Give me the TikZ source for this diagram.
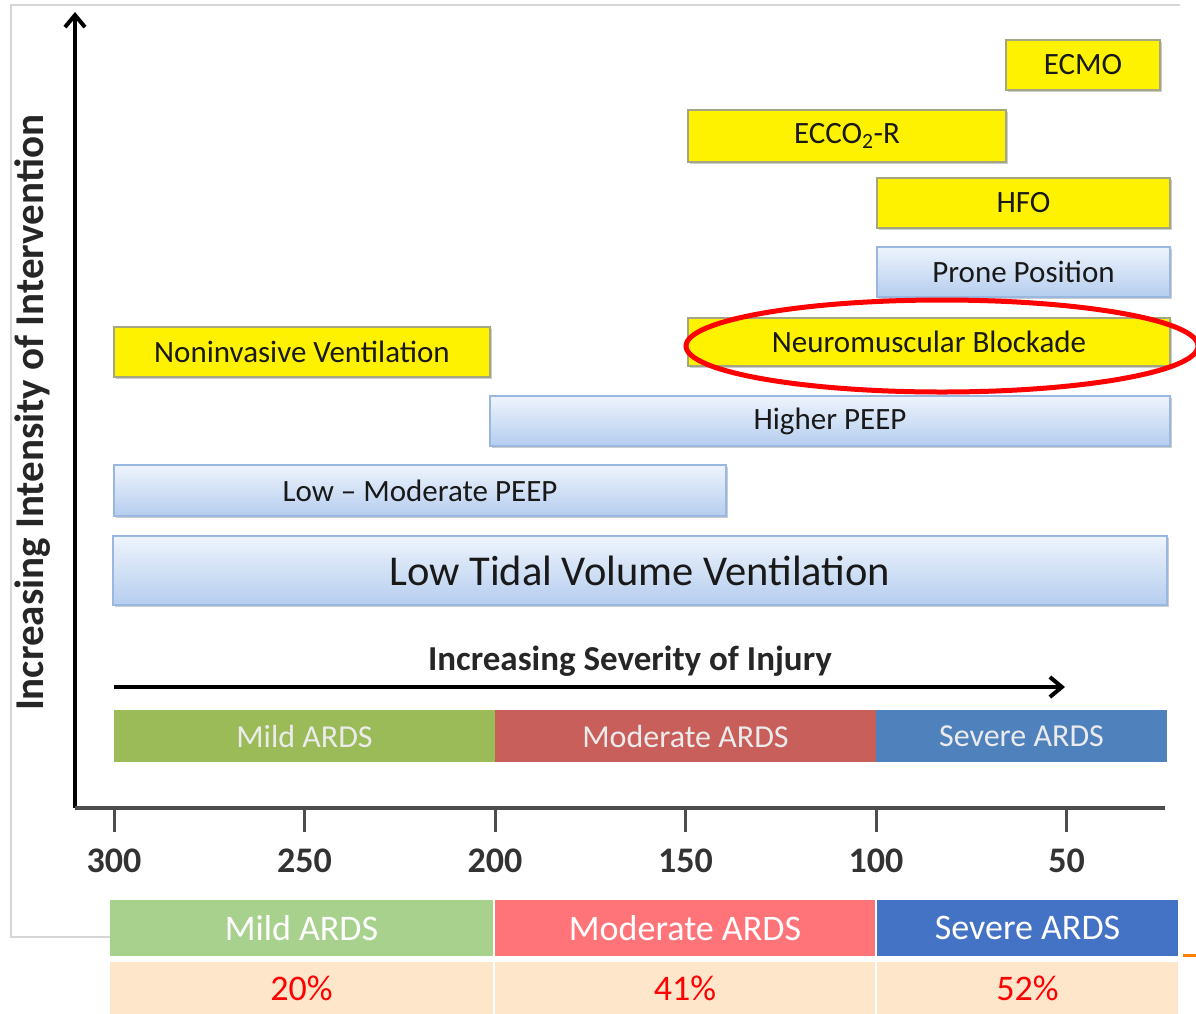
\documentclass[tikz,border=0pt]{standalone}
\usepackage{fontspec}
\setmainfont{Carlito}
\usetikzlibrary{arrows.meta,shadows}

\definecolor{boxtop}{HTML}{EEF4FC}
\definecolor{boxbot}{HTML}{B5CDEF}
\definecolor{boxline}{HTML}{9AB7DF}
\definecolor{yelline}{HTML}{A3A67E}
\definecolor{mildbar}{HTML}{9BBB59}
\definecolor{modbar}{HTML}{C95F5B}
\definecolor{sevbar}{HTML}{4F81BD}
\definecolor{mildcell}{HTML}{A9D18E}
\definecolor{modcell}{HTML}{FF7478}
\definecolor{sevcell}{HTML}{4472C4}
\definecolor{pctcell}{HTML}{FEE6CB}
\definecolor{axisgray}{HTML}{4D4D4D}
\definecolor{framegray}{HTML}{D6D6D6}

\tikzset{
    treat/.style={line width=1.5, inner sep=0, text=black!90,
        font=\fontsize{31}{34}\selectfont,
        drop shadow={shadow xshift=1.5pt, shadow yshift=-2pt, fill=black, opacity=0.2}},
    bluebox/.style={treat, draw=boxline, top color=boxtop, bottom color=boxbot},
    yelbox/.style={treat, draw=yelline, fill=yellow},
    ardsbar/.style={minimum height=52, inner sep=0, text=white!92!black,
        font=\fontsize{32}{34}\selectfont},
    cell/.style={minimum height=56, inner sep=0, font=\fontsize{36}{40}\selectfont},
    ticklabel/.style={text=black!80, font=\bfseries\fontsize{36}{40}\selectfont}
}

\begin{document}
\begin{tikzpicture}[x=1pt, y=-1pt]
            \useasboundingbox (0,0) rectangle (1196,1013);
            \clip (0,0) rectangle (1196,1013);
            \draw[framegray, line width=1.2] (110,937) -- (11,937) -- (11,5) -- (1180,5);

            \coordinate (origin) at (75,808);
            \coordinate (ytop) at (75,12);
            \coordinate (xend) at (1165,808);
            \coordinate (sevstart) at (114,687);
            \coordinate (sevend) at (1065,687);
            \draw[line width=4, -{Straight Barb[length=12, width=20, line width=4]}] (origin) -- (ytop);
            \draw[axisgray, line width=4] (origin) -- (xend);
            \draw[line width=4, -{Straight Barb[length=12, width=20, line width=4]}] (sevstart) -- (sevend);
            \foreach \v in {300,250,200,150,100,50}
                \draw[axisgray, line width=3] ({114+(300-\v)*3.81},810) -- ++(0,22)
                    node[ticklabel, below=12pt] (t\v) {\v};

            \node[rotate=90, text=black!85, font=\bfseries\fontsize{41}{44}\selectfont] (ylab) at (33,413) {Increasing Intensity of Intervention};
            \node[text=black!85, font=\bfseries\fontsize{35}{38}\selectfont] (sevlab) at (630,661) {Increasing Severity of Injury};

            \node[yelbox, minimum width=154, minimum height=50] (ecmo) at (1083,65) {ECMO};
            \node[yelbox, minimum width=318, minimum height=52] (eccor) at (847,136) {ECCO\textsubscript{2}-R};
            \node[yelbox, minimum width=293, minimum height=50] (hfo) at (1023.5,203) {HFO};
            \node[bluebox, minimum width=293, minimum height=50] (prone) at (1023.5,272) {Prone Position};
            \node[yelbox, minimum width=482, minimum height=48] (nmb) at (929,342) {Neuromuscular Blockade};
            \node[yelbox, minimum width=376, minimum height=50] (niv) at (302,352) {Noninvasive Ventilation};
            \node[bluebox, minimum width=680, minimum height=50] (highpeep) at (830,421) {Higher PEEP};
            \node[bluebox, minimum width=612, minimum height=51] (lowpeep) at (420,490.5) {Low -- Moderate PEEP};
            \node[bluebox, minimum width=1054, minimum height=69, font=\fontsize{42.5}{46}\selectfont] (ltvv) at (640,570.5) {Low Tidal Volume Ventilation};

            \draw[red, line width=5] (942,346) ellipse [x radius=256, y radius=46];

            \node[ardsbar, fill=mildbar, minimum width=381] (mildbar) at (304.5,736) {Mild ARDS};
            \node[ardsbar, fill=modbar, minimum width=381] (modbar) at (685.5,736) {Moderate ARDS};
            \node[ardsbar, fill=sevbar, minimum width=291] (sevbar) at (1021.5,736) {Severe ARDS};

            \node[cell, fill=mildcell, text=white, minimum width=383] (mild) at (301.5,928) {Mild ARDS};
            \node[cell, fill=modcell, text=white, minimum width=380] (moderate) at (685,928) {Moderate ARDS};
            \node[cell, fill=sevcell, text=white, minimum width=301] (severe) at (1027.5,928) {Severe ARDS};
            \node[cell, fill=pctcell, text=red, minimum width=383, minimum height=52] (mildpct) at (301.5,988) {20\%};
            \node[cell, fill=pctcell, text=red, minimum width=380, minimum height=52] (modpct) at (685,988) {41\%};
            \node[cell, fill=pctcell, text=red, minimum width=301, minimum height=52] (sevpct) at (1027.5,988) {52\%};
            \draw[orange, line width=3] (1183,955) -- (1196,955);
        \end{tikzpicture}
\end{document}
